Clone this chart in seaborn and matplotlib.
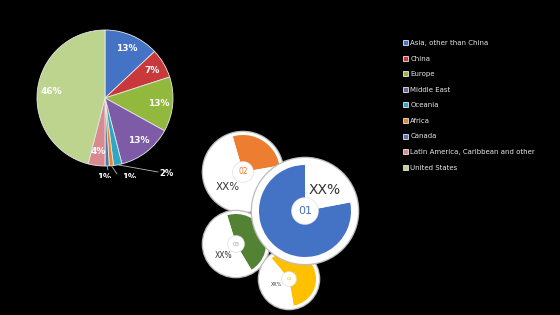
import matplotlib
matplotlib.use("Agg")
import matplotlib.pyplot as plt
import seaborn as sns
import numpy as np
from matplotlib.patches import Circle, Rectangle

sns.set_theme(style="white")
plt.rcParams['font.family'] = ['DejaVu Sans']

# ---- data ----
categories = ["Asia, other than China", "China", "Europe", "Middle East", "Oceania",
              "Africa", "Canada", "Latin America, Caribbean and other", "United States"]
shares = [13, 7, 13, 13, 2, 1, 1, 4, 46]
share_labels = ["13%", "7%", "13%", "13%", "2%", "1%", "1%", "4%", "46%"]

info_ids = ["01", "02", "03", "04"]
info_texts = ["XX%", "XX%", "XX%", "XX%"]
info_fill = [0.78, 0.267, 0.461, 0.583]

# ---- style ----
pie_colors = ["#4472C4", "#C9393B", "#92B83E", "#7D5BA6", "#2FA6C4",
              "#E8882A", "#5577AA", "#D98A8E", "#BDD48E"]
info_colors = ["#4472C4", "#ED7D31", "#548235", "#FFC000"]
num_colors = ["#4472C4", "#ED7D31", "#A0A0A0", "#FFC000"]

W, H = 560, 315
fig = plt.figure(figsize=(W / 100, H / 100), dpi=100, facecolor="black")
ax = fig.add_axes([0, 0, 1, 1])
ax.set_facecolor("black")

def Y(py):
    return H - py

# main pie
pc = (105, Y(98))
pr = 68
wedges, _ = ax.pie(shares, colors=pie_colors, startangle=90, counterclock=False,
                   center=pc, radius=pr,
                   wedgeprops=dict(edgecolor="#e8e8e8", linewidth=0.6, zorder=2))

for i, (w, lab) in enumerate(zip(wedges, share_labels)):
    mid = np.deg2rad((w.theta1 + w.theta2) / 2)
    if shares[i] >= 4:
        r = 0.8 * pr
        ax.text(pc[0] + r * np.cos(mid), pc[1] + r * np.sin(mid), lab,
                color="white", fontsize=6.5, fontweight="bold",
                ha="center", va="center", zorder=3)

# small labels with leader lines (the two lowest ones are cut off as in the source)
clip = Rectangle((0, Y(178)), W, H, transform=ax.transData, visible=False)
ax.add_patch(clip)
small = {4: ((158, Y(172)), (167, Y(174)), False),
         5: ((117, Y(174)), (129, Y(178)), True),
         6: ((108, Y(170)), (104, Y(178)), True)}
for i, (end, tpos, cut) in small.items():
    w = wedges[i]
    mid = np.deg2rad((w.theta1 + w.theta2) / 2)
    start = (pc[0] + pr * np.cos(mid), pc[1] + pr * np.sin(mid))
    ax.plot([start[0], end[0]], [start[1], end[1]], color="#bbbbbb", lw=0.6, zorder=2)
    t = ax.text(tpos[0], tpos[1], share_labels[i], color="white", fontsize=6,
                fontweight="bold", ha="center", va="center", zorder=3)
    if cut:
        t.set_clip_on(True)
        t.set_clip_path(clip)

# legend
leg = ax.legend(wedges, categories, loc="upper left",
                bbox_to_anchor=(403 / W, 1 - 40 / H), frameon=False,
                fontsize=5, labelcolor="#e6e6e6", handlelength=0.7,
                handleheight=0.7, handletextpad=0.35, labelspacing=1.38,
                borderaxespad=0, borderpad=0)

# infographic circles
geo = [
    ((305, 211), 53, 46, 13, 90, (325, 190), 10, 8),
    ((243, 172), 40, 37, 10, 10, (228, 187), 7.5, 5.5),
    ((236, 244), 33, 30, 8, -59, (224, 255), 5.5, 4),
    ((289, 279), 30, 27, 7, -80, (277, 285), 3.5, 3),
]
order = [1, 2, 3, 0]
for n, k in enumerate(order):
    z = 10 + n * 10
    (cx, cy), rw, rr, ri, sa, tp, ts, ns = geo[k]
    c = (cx, Y(cy))
    ax.add_patch(Circle(c, rw + 1.3, facecolor="#bdbdbd", edgecolor="none", zorder=z))
    ax.add_patch(Circle(c, rw, facecolor="white", edgecolor="none", zorder=z + 1))
    ax.pie([info_fill[k], 1 - info_fill[k]], colors=[info_colors[k], "white"],
           startangle=sa, counterclock=True, center=c, radius=rr,
           wedgeprops=dict(linewidth=0, zorder=z + 2))
    ax.add_patch(Circle(c, ri + 0.8, facecolor="#e3e3e3", edgecolor="none", zorder=z + 3))
    ax.add_patch(Circle(c, ri, facecolor="white", edgecolor="none", zorder=z + 4))
    ax.text(c[0], c[1], info_ids[k], color=num_colors[k], fontsize=ns,
            ha="center", va="center", zorder=z + 5)
    ax.text(tp[0], Y(tp[1]), info_texts[k], color="#333333", fontsize=ts,
            ha="center", va="center", zorder=z + 5)

ax.set_xlim(0, W)
ax.set_ylim(0, H)
ax.set_aspect("equal")
ax.axis("off")
fig.savefig("out.png", dpi=100, facecolor="black")
